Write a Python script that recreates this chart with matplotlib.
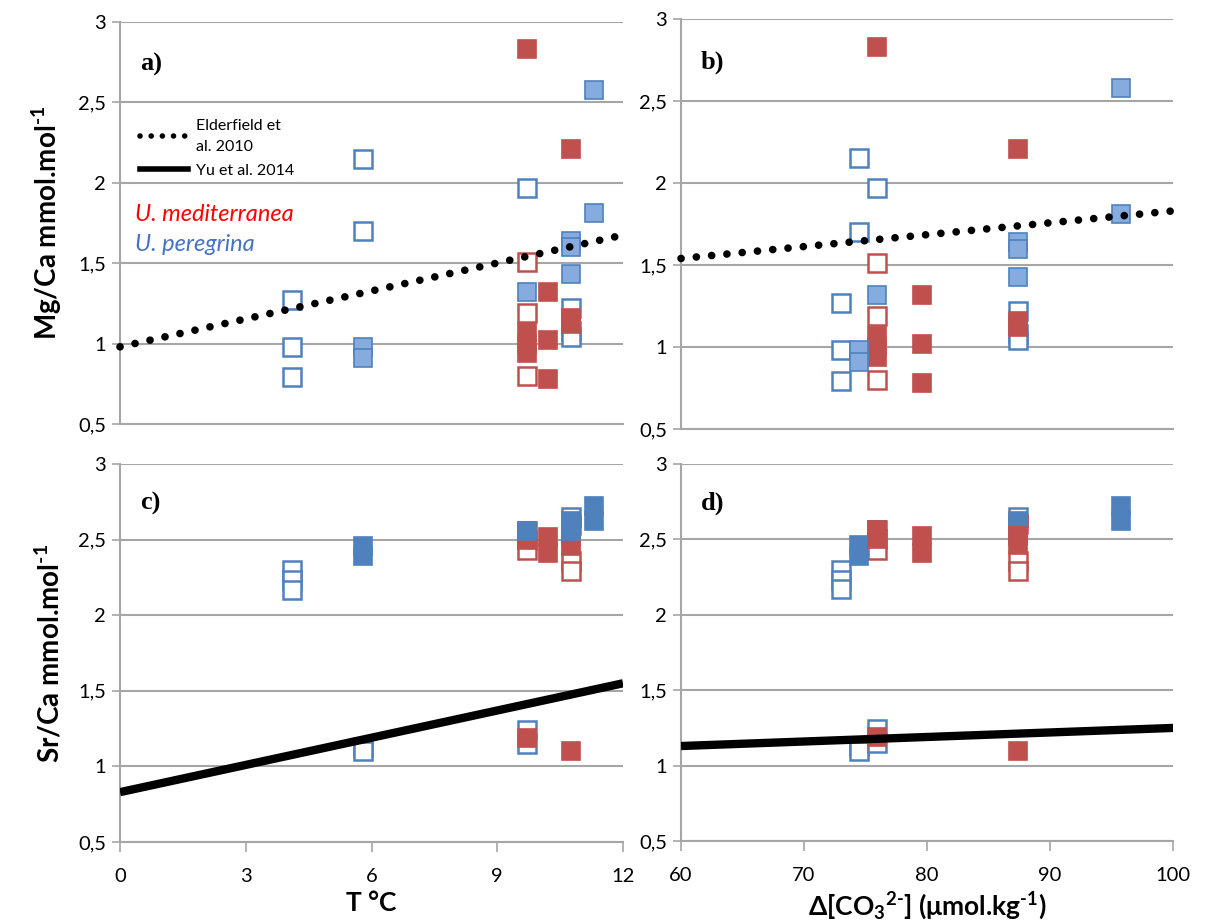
import numpy as np
import matplotlib
matplotlib.use('Agg')
import matplotlib.pyplot as plt
from matplotlib.lines import Line2D

plt.rcParams['font.family'] = ['Lato', 'DejaVu Sans']
plt.rcParams['mathtext.fontset'] = 'custom'
plt.rcParams['mathtext.rm'] = 'Lato:bold'
plt.rcParams['mathtext.it'] = 'Lato:bold:italic'
plt.rcParams['mathtext.bf'] = 'Lato:bold'
plt.rcParams['mathtext.default'] = 'rm'

# stations: temperature and carbonate ion saturation
station_T = [4.1, 5.8, 9.7, 10.2, 10.75, 11.3]
station_dco3 = [73.0, 74.45, 75.96, 79.57, 87.43, 95.78]

# Mg/Ca (station index, value)
mg_pere_open_st = [0, 0, 0, 1, 1, 2, 4, 4, 4]
mg_pere_open = [1.27, 0.98, 0.79, 2.15, 1.70, 1.97, 1.22, 1.08, 1.04]
mg_pere_fill_st = [1, 1, 2, 4, 4, 4, 5, 5]
mg_pere_fill = [0.98, 0.91, 1.32, 1.64, 1.60, 1.43, 2.58, 1.81]
mg_medi_open_st = [2, 2, 2]
mg_medi_open = [1.51, 1.19, 0.80]
mg_medi_fill_st = [2, 2, 2, 2, 3, 3, 3, 4, 4, 4]
mg_medi_fill = [2.83, 1.07, 1.00, 0.94, 1.32, 1.02, 0.78, 2.21, 1.16, 1.12]

# Sr/Ca (station index, value)
sr_pere_open_st = [0, 0, 0, 1, 1, 2, 2, 4]
sr_pere_open = [2.30, 2.23, 2.17, 1.13, 1.10, 1.24, 1.15, 2.65]
sr_pere_fill_st = [1, 1, 2, 4, 4, 5, 5]
sr_pere_fill = [2.46, 2.39, 2.56, 2.62, 2.56, 2.72, 2.62]
sr_medi_open_st = [2, 2, 2, 4, 4, 4]
sr_medi_open = [2.56, 2.50, 2.43, 2.60, 2.36, 2.29]
sr_medi_fill_st = [2, 2, 3, 3, 4, 4, 2, 4]
sr_medi_fill = [2.56, 2.50, 2.52, 2.41, 2.52, 2.46, 1.19, 1.10]

# calibration lines (end points)
elder_T = [0, 12]
elder_T_mg = [0.98, 1.675]
elder_c = [60, 100]
elder_c_mg = [1.54, 1.83]
yu_T = [0, 12]
yu_T_sr = [0.83, 1.55]
yu_c = [60, 100]
yu_c_sr = [1.13, 1.25]

yticks = [0.5, 1, 1.5, 2, 2.5, 3]
ylabels = ['0,5', '1', '1,5', '2', '2,5', '3']

RED = '#C0504D'
BLUE = '#4F81BD'
GRID = '#A6A6A6'

fig = plt.figure(figsize=(12.06, 9.24), dpi=100)
ax_a = fig.add_axes([0.0995, 0.5411, 0.4171, 0.4351])
ax_b = fig.add_axes([0.5647, 0.5357, 0.4080, 0.4437])
ax_c = fig.add_axes([0.0995, 0.0887, 0.4171, 0.4091])
ax_d = fig.add_axes([0.5647, 0.0898, 0.4080, 0.4080])


def style(ax, xlim, xticks, show_x):
    ax.set_xlim(*xlim)
    ax.set_ylim(0.5, 3)
    ax.set_yticks(yticks)
    ax.set_yticklabels(ylabels)
    ax.yaxis.grid(True, color=GRID, lw=1.5)
    ax.set_axisbelow(True)
    for s in ['top', 'right']:
        ax.spines[s].set_visible(False)
    ax.spines['left'].set_color(GRID)
    ax.spines['left'].set_linewidth(1.5)
    ax.spines['bottom'].set_color(GRID)
    ax.spines['bottom'].set_linewidth(1.5)
    ax.tick_params(axis='y', length=6, width=1.2, color=GRID, labelsize=14.5, pad=4)
    ax.set_xticks(xticks)
    if show_x:
        ax.tick_params(axis='x', length=7, width=1.2, color=GRID, labelsize=14.5, pad=12)
    else:
        ax.tick_params(axis='x', bottom=False, labelbottom=False)


def draw(ax, xs, st_list, vals, color, filled, face=None, z=4):
    x = [xs[i] for i in st_list]
    if filled:
        fc = face if face is not None else color
        ax.plot(x, vals, 's', ms=13.5, mfc=fc, mec=color, mew=1.2, zorder=z)
    else:
        ax.plot(x, vals, 's', ms=13.5, mfc='white', mec=color, mew=1.8, zorder=3)


def markers(ax, xs, po_s, po, pf_s, pf, mo_s, mo, mf_s, mf, blue_face, red_top=False):
    draw(ax, xs, po_s, po, BLUE, False)
    draw(ax, xs, mo_s, mo, RED, False)
    draw(ax, xs, mf_s, mf, RED, True, z=4.5 if red_top else 4)
    draw(ax, xs, pf_s, pf, BLUE, True, face=blue_face, z=4.2)


style(ax_a, (0, 12), [0, 3, 6, 9, 12], False)
style(ax_b, (60, 100), [60, 70, 80, 90, 100], False)
style(ax_c, (0, 12), [0, 3, 6, 9, 12], True)
style(ax_d, (60, 100), [60, 70, 80, 90, 100], True)

dotted = dict(color='black', lw=5.5, linestyle=(0, (0.01, 2.0)),
              dash_capstyle='round', solid_capstyle='round', zorder=5)
ax_a.plot(elder_T, elder_T_mg, **dotted, clip_on=False)
ax_b.plot(elder_c, elder_c_mg, **dotted, clip_on=False)
ax_c.plot(yu_T, yu_T_sr, color='black', lw=6, zorder=5, solid_capstyle='butt')
ax_d.plot(yu_c, yu_c_sr, color='black', lw=6, zorder=5, solid_capstyle='butt')

markers(ax_a, station_T, mg_pere_open_st, mg_pere_open, mg_pere_fill_st, mg_pere_fill,
        mg_medi_open_st, mg_medi_open, mg_medi_fill_st, mg_medi_fill, '#86ABDF')
markers(ax_b, station_dco3, mg_pere_open_st, mg_pere_open, mg_pere_fill_st, mg_pere_fill,
        mg_medi_open_st, mg_medi_open, mg_medi_fill_st, mg_medi_fill, '#86ABDF')
markers(ax_c, station_T, sr_pere_open_st, sr_pere_open, sr_pere_fill_st, sr_pere_fill,
        sr_medi_open_st, sr_medi_open, sr_medi_fill_st, sr_medi_fill, BLUE)
markers(ax_d, station_dco3, sr_pere_open_st, sr_pere_open, sr_pere_fill_st, sr_pere_fill,
        sr_medi_open_st, sr_medi_open, sr_medi_fill_st, sr_medi_fill, BLUE, red_top=True)

# panel letters
for ax, lab in [(ax_a, 'a)'), (ax_b, 'b)'), (ax_c, 'c)'), (ax_d, 'd)')]:
    ax.text(0.04, 0.895, lab, transform=ax.transAxes, fontsize=19, fontweight='bold',
            family='Liberation Serif', va='center', ha='left')

# legend in panel a
h1 = Line2D([], [], color='black', lw=4, linestyle=(0, (0.01, 2.0)), dash_capstyle='round')
h2 = Line2D([], [], color='black', lw=4)
leg = ax_a.legend([h1, h2], ['Elderfield et\nal. 2010', 'Yu et al. 2014'],
                  loc='upper left', bbox_to_anchor=(0.015, 0.79), fontsize=11.5,
                  frameon=True, fancybox=False, framealpha=1, edgecolor='none',
                  handlelength=3.0, handletextpad=0.5, labelspacing=0.6,
                  borderpad=0.3)
for t in leg.get_texts():
    t.set_linespacing(1.6)
leg.set_zorder(6)

ax_a.text(0.03, 0.52, 'U. mediterranea', transform=ax_a.transAxes, color='#FF0000',
          fontsize=17, style='italic', va='center')
ax_a.text(0.03, 0.447, 'U. peregrina', transform=ax_a.transAxes, color='#4472C4',
          fontsize=17, style='italic', va='center')

ax_a.set_ylabel(r'Mg/Ca mmol.mol$^{\text{-1}}$', fontsize=20, fontweight='bold', labelpad=10)
ax_c.set_ylabel(r'Sr/Ca mmol.mol$^{\text{-1}}$', fontsize=20, fontweight='bold', labelpad=10)
ax_c.set_xlabel('T °C', fontsize=19, fontweight='bold', labelpad=4)
ax_d.set_xlabel(r'Δ[CO$_3$$^{\text{2-}}$] (μmol.kg$^{\text{-1}}$)', fontsize=19,
                fontweight='bold', labelpad=4)

fig.savefig('out.png', dpi=100)
